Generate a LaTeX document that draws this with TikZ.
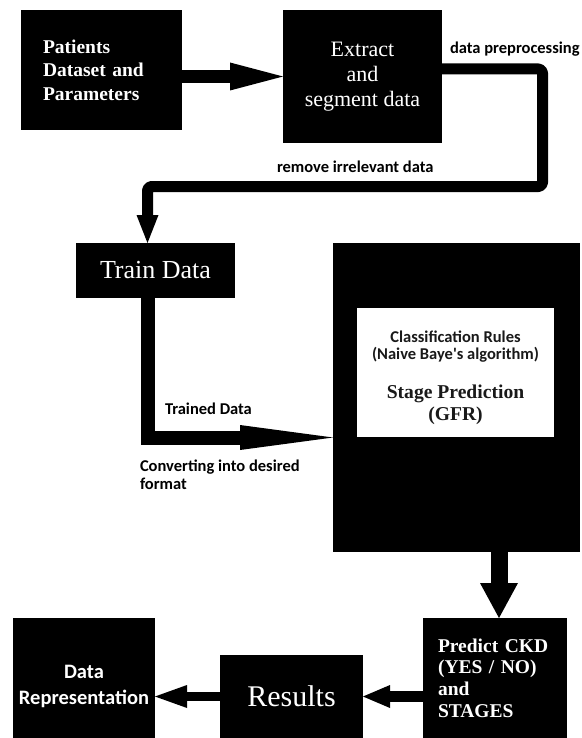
\documentclass[tikz,border=0pt]{standalone}
\usepackage{fontspec}
\setmainfont{Liberation Serif}
\newfontfamily\calfont{Carlito}
\usetikzlibrary{arrows.meta}
\begin{document}
\begin{tikzpicture}[x=1pt,y=-1pt,
  blk/.style={fill=black,draw=none,inner sep=0pt,outer sep=0pt,text=white},
  lbl/.style={inner sep=0pt,outer sep=0pt,text=black,font=\calfont\bfseries\fontsize{16.5}{18}\selectfont},
  arrA/.style={line width=13pt,-{Triangle[length=53pt,width=28pt,line width=0pt]}},
  loopline/.style={line width=11pt,rounded corners=4pt,line join=round,-{Triangle[length=28pt,width=22pt,line width=0pt]}},
  trainline/.style={line width=14pt,line join=miter,-{Triangle[length=93pt,width=25pt,line width=0pt]}},
  downarr/.style={line width=17pt,-{Triangle[length=35pt,width=38pt,line width=0pt]}},
  leftarrA/.style={line width=11pt,-{Triangle[length=27pt,width=23pt,line width=0pt]}},
  leftarrB/.style={line width=9pt,-{Triangle[length=32pt,width=23pt,line width=0pt]}}]
\useasboundingbox (0,0) rectangle (581,738);
\fill[white] (0,0) rectangle (581,738);

% boxes
\node[blk,minimum width=161pt,minimum height=120pt,text width=117pt,align=left,
  font=\bfseries\fontsize{19.5}{23.5}\selectfont] (p1) at (101.5,70)
  {Patients\\Dataset and\\Parameters};
\node[blk,minimum width=159pt,minimum height=133pt,align=center,
  font=\fontsize{22}{25}\selectfont] (p2) at (362.5,76.5)
  {Extract\\and\\segment data};
\node[blk,minimum width=159pt,minimum height=55pt,
  font=\fontsize{26}{30}\selectfont] (train) at (155.5,270.5) {Train Data};
\node[blk,minimum width=247pt,minimum height=309pt] (big) at (456.5,397.5) {};
\node[fill=white,inner sep=0pt,minimum width=197pt,minimum height=129pt] (rules) at (455.5,372.5) {};
\node[inner sep=0pt,align=center,text=black!90,
  font=\calfont\bfseries\fontsize{16.5}{17}\selectfont] (rulestxt) at (455.5,347)
  {Classification Rules\\(Naive Baye's algorithm)};
\node[inner sep=0pt,align=center,text=black!90,
  font=\bfseries\fontsize{19.6}{21.5}\selectfont] (stagetxt) at (455.5,405)
  {Stage Prediction\\(GFR)};
\node[blk,minimum width=144pt,minimum height=120pt,text width=114pt,align=left,
  font=\bfseries\fontsize{19.5}{21.7}\selectfont] (pred) at (495,678)
  {Predict CKD\\(YES / NO)\\and\\STAGES};
\node[blk,minimum width=143pt,minimum height=83pt,
  font=\fontsize{30}{34}\selectfont] (res) at (291.5,696.5) {Results};
\node[blk,minimum width=142pt,minimum height=120pt] (dr) at (84,678) {};
\node[inner sep=0pt,text=white,align=center,
  font=\calfont\bfseries\fontsize{20.5}{26}\selectfont] (drtxt) at (84,686)
  {Data\\Representation};

% labels
\node[lbl,anchor=base west] (lprep) at (450,54) {data preprocessing};
\node[lbl,anchor=base west] (lrem) at (277,173) {remove irrelevant data};
\node[lbl,anchor=base west] (ltrained) at (165,414) {Trained Data};
\node[lbl,anchor=north west,align=left] (lconv) at (140,459.5) {Converting into desired\\format};

% connectors
\draw[arrA] (p1.east |- p2.east) -- (p2.west);
\coordinate (lpA) at (542.5,69);
\coordinate (lpB) at (542.5,186.5);
\coordinate (lpC) at (147.5,186.5);
\draw[loopline] (p2.east |- lpA) -- (lpA) -- (lpB) -- (lpC) -- (lpC |- train.north);
\coordinate (tdA) at (147.5,437.5);
\draw[trainline] (train.south -| tdA) -- (tdA) -- (big.west |- tdA);
\coordinate (dA) at (499,0);
\draw[downarr] (big.south -| dA) -- (pred.north -| dA);
\draw[leftarrA] (pred.west |- res.east) -- (res.east);
\draw[leftarrB] (res.west) -- (dr.east |- res.west);
\end{tikzpicture}
\end{document}
